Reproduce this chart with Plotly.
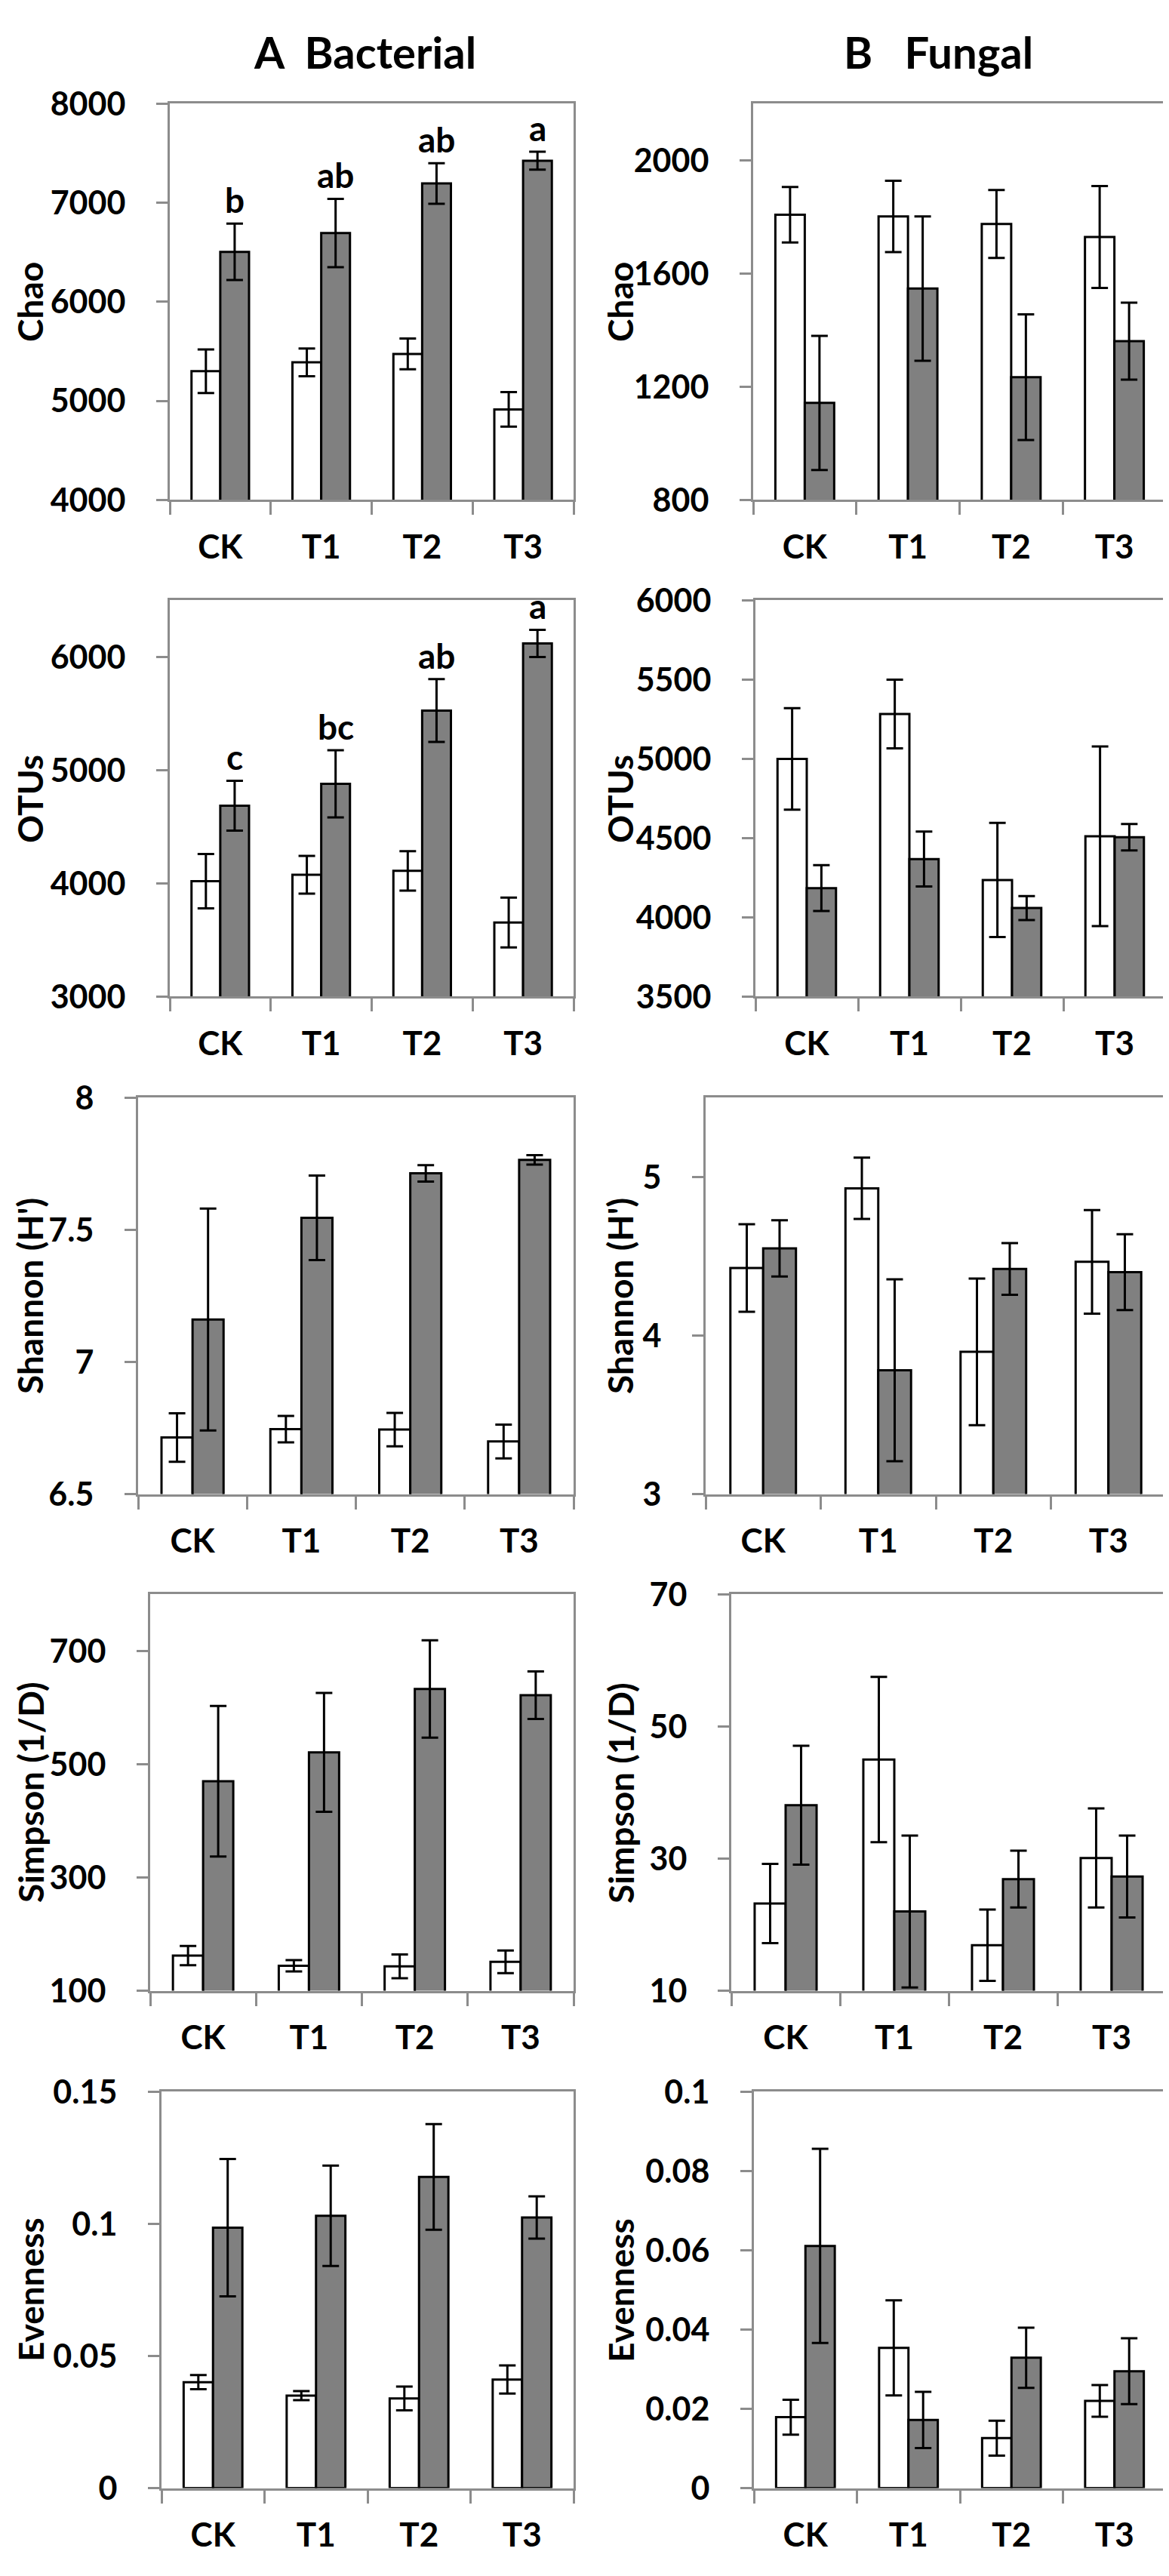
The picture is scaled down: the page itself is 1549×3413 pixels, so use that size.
import plotly.graph_objects as go

# treatments on the x axis
categories = ["CK", "T1", "T2", "T3"]

# A Bacterial
chao_bac_white = [5300, 5390, 5475, 4915]
chao_bac_white_err = [220, 140, 155, 175]
chao_bac_gray = [6505, 6695, 7195, 7425]
chao_bac_gray_err = [285, 345, 205, 90]
chao_bac_letters = ["b", "ab", "ab", "a"]

otu_bac_white = [4020, 4077, 4111, 3655]
otu_bac_white_err = [240, 167, 174, 220]
otu_bac_gray = [4687, 4880, 5527, 6120]
otu_bac_gray_err = [220, 296, 278, 120]
otu_bac_letters = ["c", "bc", "ab", "a"]

sha_bac_white = [6.714, 6.746, 6.744, 6.699]
sha_bac_white_err = [0.092, 0.05, 0.063, 0.064]
sha_bac_gray = [7.161, 7.546, 7.714, 7.765]
sha_bac_gray_err = [0.42, 0.16, 0.031, 0.018]

sim_bac_white = [162, 144, 143, 151]
sim_bac_white_err = [17, 10, 21, 20]
sim_bac_gray = [470, 521, 633, 622]
sim_bac_gray_err = [133, 105, 86, 42]

eve_bac_white = [0.0401, 0.0350, 0.0339, 0.0411]
eve_bac_white_err = [0.0027, 0.0017, 0.0045, 0.0053]
eve_bac_gray = [0.0986, 0.1031, 0.1178, 0.1024]
eve_bac_gray_err = [0.026, 0.019, 0.020, 0.008]

# B Fungal
chao_fun_white = [1808, 1802, 1775, 1729]
chao_fun_white_err = [98, 126, 120, 180]
chao_fun_gray = [1143, 1547, 1234, 1361]
chao_fun_gray_err = [237, 255, 222, 136]

otu_fun_white = [5000, 5283, 4236, 4512]
otu_fun_white_err = [320, 217, 360, 567]
otu_fun_gray = [4185, 4368, 4059, 4506]
otu_fun_gray_err = [145, 173, 76, 83]

sha_fun_white = [4.426, 4.929, 3.897, 4.465]
sha_fun_white_err = [0.276, 0.193, 0.463, 0.327]
sha_fun_gray = [4.550, 3.781, 4.420, 4.400]
sha_fun_gray_err = [0.177, 0.574, 0.163, 0.239]

sim_fun_white = [23.2, 45.0, 16.9, 30.1]
sim_fun_white_err = [6.0, 12.5, 5.4, 7.5]
sim_fun_gray = [38.1, 22.0, 26.9, 27.3]
sim_fun_gray_err = [9.0, 11.5, 4.3, 6.2]

eve_fun_white = [0.0179, 0.0354, 0.0126, 0.0220]
eve_fun_white_err = [0.0044, 0.012, 0.0044, 0.0040]
eve_fun_gray = [0.0611, 0.0172, 0.0329, 0.0295]
eve_fun_gray_err = [0.0245, 0.0071, 0.0076, 0.0083]

# axis titles and ticks
row_titles = ["Chao", "OTUs", "Shannon (H')", "Simpson (1/D)", "Evenness"]
col_titles = ["A\u00a0\u00a0Bacterial", "B\u00a0\u00a0\u00a0Fungal"]

bac_ranges = [[4000, 8000], [3000, 6500], [6.5, 8], [100, 800], [0, 0.15]]
bac_ticks = [[4000, 5000, 6000, 7000, 8000], [3000, 4000, 5000, 6000],
             [6.5, 7, 7.5, 8], [100, 300, 500, 700], [0, 0.05, 0.1, 0.15]]
bac_ticktext = [["4000", "5000", "6000", "7000", "8000"], ["3000", "4000", "5000", "6000"],
                ["6.5", "7", "7.5", "8"], ["100", "300", "500", "700"], ["0", "0.05", "0.1", "0.15"]]

fun_ranges = [[800, 2200], [3500, 6000], [3, 5.5], [10, 70], [0, 0.1]]
fun_ticks = [[800, 1200, 1600, 2000], [3500, 4000, 4500, 5000, 5500, 6000],
             [3, 4, 5], [10, 30, 50, 70], [0, 0.02, 0.04, 0.06, 0.08, 0.1]]
fun_ticktext = [["800", "1200", "1600", "2000"], ["3500", "4000", "4500", "5000", "5500", "6000"],
                ["3", "4", "5"], ["10", "30", "50", "70"], ["0", "0.02", "0.04", "0.06", "0.08", "0.1"]]

# panels: (white, white err, gray, gray err, letters)
bac_panels = [
    (chao_bac_white, chao_bac_white_err, chao_bac_gray, chao_bac_gray_err, chao_bac_letters),
    (otu_bac_white, otu_bac_white_err, otu_bac_gray, otu_bac_gray_err, otu_bac_letters),
    (sha_bac_white, sha_bac_white_err, sha_bac_gray, sha_bac_gray_err, None),
    (sim_bac_white, sim_bac_white_err, sim_bac_gray, sim_bac_gray_err, None),
    (eve_bac_white, eve_bac_white_err, eve_bac_gray, eve_bac_gray_err, None),
]
fun_panels = [
    (chao_fun_white, chao_fun_white_err, chao_fun_gray, chao_fun_gray_err, None),
    (otu_fun_white, otu_fun_white_err, otu_fun_gray, otu_fun_gray_err, None),
    (sha_fun_white, sha_fun_white_err, sha_fun_gray, sha_fun_gray_err, None),
    (sim_fun_white, sim_fun_white_err, sim_fun_gray, sim_fun_gray_err, None),
    (eve_fun_white, eve_fun_white_err, eve_fun_gray, eve_fun_gray_err, None),
]

# page geometry in pixels
W, H = 1549, 3413
row_top = [104, 772, 1441, 2109, 2778]
row_h = 533
a_left = [217, 217, 175, 191, 206]
a_right = 752
b_left = [990, 993, 927, 961, 991]
b_right = 1537
ytitle_x = [32, 814]

FONT = "Lato, Open Sans, sans-serif"
frame = "#8c8c8c"
gray = "#808080"

fig = go.Figure()
annotations = []
layout_axes = {}

k = 0
for col, (panels, ranges, ticks, ticktext) in enumerate(
        [(bac_panels, bac_ranges, bac_ticks, bac_ticktext),
         (fun_panels, fun_ranges, fun_ticks, fun_ticktext)]):
    for r in range(5):
        k += 1
        xa = "x" if k == 1 else f"x{k}"
        ya = "y" if k == 1 else f"y{k}"
        white, white_err, grey, grey_err, letters = panels[r]

        fig.add_trace(go.Bar(
            x=categories, y=white, xaxis=xa, yaxis=ya,
            marker=dict(color="white", line=dict(color="black", width=3)),
            error_y=dict(type="data", array=white_err, color="black", thickness=3, width=11),
            showlegend=False))
        fig.add_trace(go.Bar(
            x=categories, y=grey, xaxis=xa, yaxis=ya,
            marker=dict(color=gray, line=dict(color="black", width=3)),
            error_y=dict(type="data", array=grey_err, color="black", thickness=3, width=11),
            showlegend=False))

        left = a_left[r] if col == 0 else b_left[r]
        right = a_right if col == 0 else b_right
        top = row_top[r]
        bot = top + row_h

        layout_axes["xaxis" if k == 1 else f"xaxis{k}"] = dict(
            domain=[left / W, right / W], anchor=ya,
            type="category", range=[-0.5, 3.5],
            showline=True, mirror=True, linecolor=frame, linewidth=3,
            ticks="outside", tickson="boundaries", ticklen=17, tickwidth=3, tickcolor=frame,
            ticklabelstandoff=22, showgrid=False,
            tickfont=dict(family=FONT, size=44, color="black", weight="bold"))
        layout_axes["yaxis" if k == 1 else f"yaxis{k}"] = dict(
            domain=[1 - bot / H, 1 - top / H], anchor=xa,
            range=ranges[r], tickvals=ticks[r], ticktext=ticktext[r],
            showline=True, mirror=True, linecolor=frame, linewidth=3,
            ticks="outside", ticklen=15, tickwidth=3, tickcolor=frame,
            ticklabelstandoff=32, showgrid=False, zeroline=False,
            tickfont=dict(family=FONT, size=43, color="black", weight="bold"))

        annotations.append(dict(
            text=row_titles[r], xref="paper", yref="paper",
            x=ytitle_x[col] / W, y=1 - (top + row_h / 2) / H,
            textangle=-90, showarrow=False, xanchor="center", yanchor="middle",
            font=dict(family=FONT, size=46, color="black", weight="bold")))

        if letters:
            for cat, v, e, t in zip(categories, grey, grey_err, letters):
                annotations.append(dict(
                    text=t, x=cat, y=v + e, xref=xa, yref=ya,
                    xshift=19, yshift=2, showarrow=False, yanchor="bottom",
                    font=dict(family=FONT, size=46, color="black", weight="bold")))

for title, cx in zip(col_titles, [475, 1235]):
    annotations.append(dict(
        text=title, xref="paper", yref="paper", x=cx / W, y=1 - 34 / H,
        showarrow=False, xanchor="center", yanchor="middle",
        font=dict(family=FONT, size=58, color="black", weight="bold")))

fig.update_layout(
    width=W, height=H, autosize=False,
    margin=dict(l=0, r=0, t=0, b=0),
    paper_bgcolor="white", plot_bgcolor="white",
    barmode="group", bargap=0.43, bargroupgap=0,
    annotations=annotations,
    **layout_axes)

fig.write_html("out.html")
